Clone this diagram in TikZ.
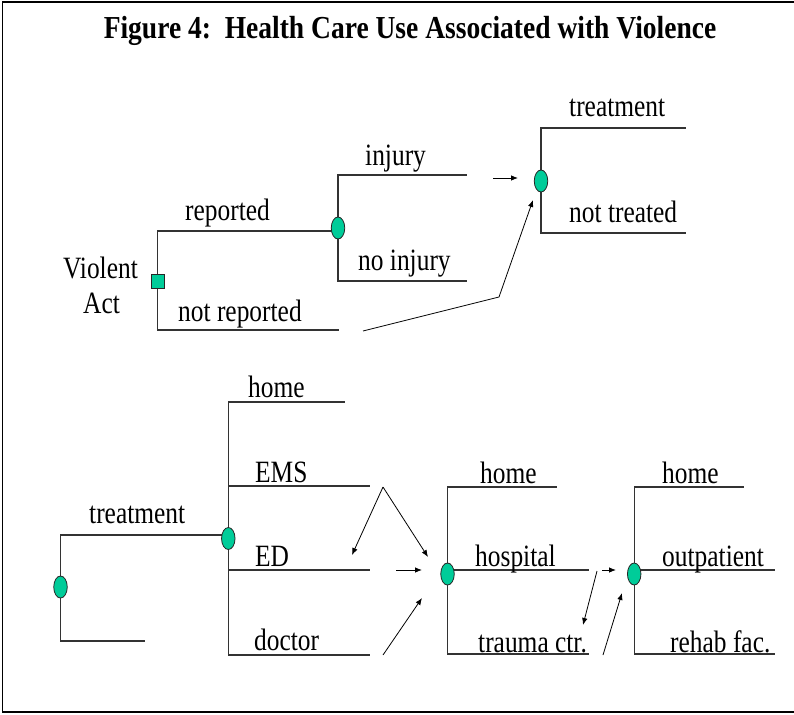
\documentclass[tikz,border=0pt]{standalone}
\usepackage{fontspec}
\setmainfont{Liberation Serif}[FakeStretch=0.82]
\newfontfamily\titlefont{Liberation Serif}[FakeStretch=0.86]
\usetikzlibrary{shapes.geometric,arrows.meta,backgrounds}
\definecolor{nodegreen}{RGB}{0,204,153}
\tikzset{
  br/.style={draw=black!80, line width=1.1pt},
  chance/.style={ellipse, draw=black!85, line width=0.8pt, fill=nodegreen,
    minimum width=13.5pt, minimum height=22pt, inner sep=0pt},
  decision/.style={rectangle, draw=black!85, line width=0.8pt, fill=nodegreen,
    minimum width=13pt, minimum height=14pt, inner sep=0pt},
  lbl/.style={anchor=base west, inner sep=0pt, font=\fontsize{31}{33}\selectfont},
  clbl/.style={anchor=base, inner sep=0pt, font=\fontsize{31}{33}\selectfont},
  arr/.style={-{Latex[length=7pt,width=5.5pt]}, line width=0.8pt, draw=black},
}
\begin{document}
\begin{tikzpicture}[x=1pt,y=-1pt]
\useasboundingbox (0,0) rectangle (794,714);
\begin{scope}
\clip (0,0) rectangle (794,714);
\draw[line width=1.8pt] (2.5,2) rectangle (800,712);
\end{scope}
% title
\node[anchor=base, inner sep=0pt, font=\titlefont\bfseries\fontsize{32}{34}\selectfont] (title) at (410,39)
  {Figure 4:\ \ Health Care Use Associated with Violence};
% decision/chance nodes
\node[decision] (dec) at (157.7,281) {};
\node[chance] (c1) at (338,228) {};
\node[chance] (c2) at (541,181) {};
\node[chance] (c3) at (60.5,587) {};
\node[chance] (c4) at (228.3,538.5) {};
\node[chance] (c5) at (447.5,574) {};
\node[chance] (c6) at (634.2,574) {};
% branch ends
\coordinate (repE) at (338,231);
\coordinate (notrepE) at (339,330);
\coordinate (injE) at (467,175);
\coordinate (noinjE) at (467,281);
\coordinate (treatE) at (686,128);
\coordinate (nottreatE) at (686,233);
\coordinate (trtE) at (228.3,535);
\coordinate (c3botE) at (145,641);
\coordinate (homeAE) at (345,402);
\coordinate (emsE) at (370,486);
\coordinate (edE) at (370,570);
\coordinate (docE) at (370,655);
\coordinate (homeBE) at (557,487);
\coordinate (hospE) at (589,570);
\coordinate (traumaE) at (589,654);
\coordinate (homeCE) at (744,487);
\coordinate (outE) at (775,570);
\coordinate (rehabE) at (775,654);
\begin{scope}[on background layer]
\draw[br] (dec.center) |- (repE);
\draw[br] (dec.center) |- (notrepE);
\draw[br] (c1.center) |- (injE);
\draw[br] (c1.center) |- (noinjE);
\draw[br] (c2.center) |- (treatE);
\draw[br] (c2.center) |- (nottreatE);
\draw[br] (c3.center) |- (trtE);
\draw[br] (c3.center) |- (c3botE);
\draw[br] (c4.center) |- (homeAE);
\draw[br] (c4.center) |- (emsE);
\draw[br] (c4.center) |- (edE);
\draw[br] (c4.center) |- (docE);
\draw[br] (c5.center) |- (homeBE);
\draw[br] (c5.center) |- (hospE);
\draw[br] (c5.center) |- (traumaE);
\draw[br] (c6.center) |- (homeCE);
\draw[br] (c6.center) |- (outE);
\draw[br] (c6.center) |- (rehabE);
\end{scope}
% labels
\node[clbl] (violent) at (100.5,278) {Violent};
\node[clbl] (act) at (101.5,313) {Act};
\node[lbl] (lrep) at (185,220) {reported};
\node[lbl] (lnotrep) at (178,321) {not reported};
\node[lbl] (linj) at (365,165) {injury};
\node[lbl] (lnoinj) at (358,270) {no injury};
\node[lbl] (ltreat) at (569,117) {treatment};
\node[lbl] (lnottreat) at (569,222) {not treated};
\node[lbl] (ltreat2) at (89,523) {treatment};
\node[lbl] (lhomeA) at (248,397) {home};
\node[lbl] (lems) at (255,482) {EMS};
\node[lbl] (led) at (255,566) {ED};
\node[lbl] (ldoc) at (254,650) {doctor};
\node[lbl] (lhomeB) at (480,483) {home};
\node[lbl] (lhosp) at (475,566) {hospital};
\node[lbl] (ltrauma) at (478,652) {trauma ctr.};
\node[lbl] (lhomeC) at (662,483) {home};
\node[lbl] (lout) at (662,566) {outpatient};
\node[lbl] (lrehab) at (670,652) {rehab fac.};
% arrow end points
\coordinate (a1s) at (493,178); \coordinate (a1e) at (518,178);
\coordinate (a2s) at (363,331); \coordinate (a2m) at (499,297); \coordinate (a2e) at (533,200);
\coordinate (a3s) at (383,487); \coordinate (a3e) at (352,555); \coordinate (a4e) at (428,557);
\coordinate (a5s) at (396,570); \coordinate (a5e) at (422,570);
\coordinate (a6s) at (383,655); \coordinate (a6e) at (422,598);
\coordinate (a7s) at (602,570); \coordinate (a7e) at (616,570);
\coordinate (a8s) at (597,571); \coordinate (a8e) at (583,625);
\coordinate (a9s) at (603,655); \coordinate (a9e) at (622,593);
\draw[arr] (a1s) -- (a1e);
\draw[arr] (a2s) -- (a2m) -- (a2e);
\draw[arr] (a3s) -- (a3e);
\draw[arr] (a3s) -- (a4e);
\draw[arr] (a5s) -- (a5e);
\draw[arr] (a6s) -- (a6e);
\draw[arr] (a7s) -- (a7e);
\draw[arr] (a8s) -- (a8e);
\draw[arr] (a9s) -- (a9e);
\end{tikzpicture}
\end{document}
